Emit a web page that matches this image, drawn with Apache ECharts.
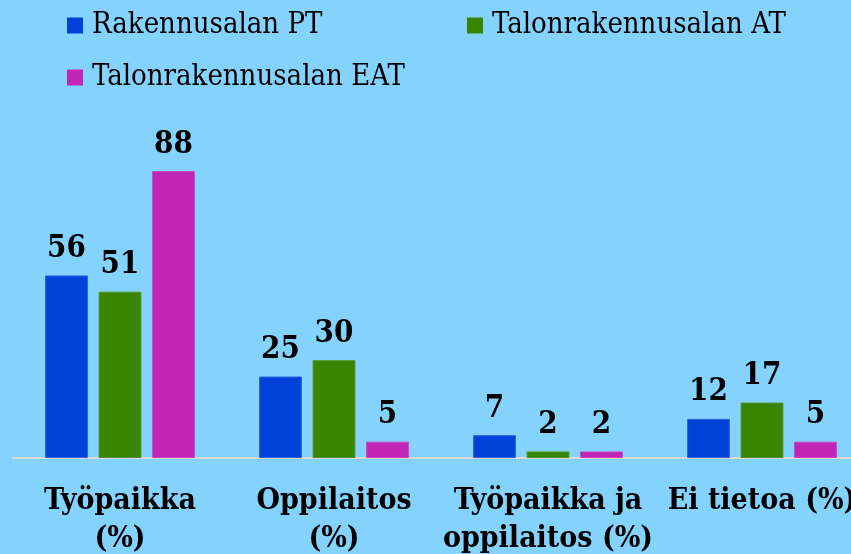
<!DOCTYPE html>
<html>
<head>
<meta charset="utf-8">
<script src="https://cdn.jsdelivr.net/npm/echarts@6/dist/echarts.min.js"></script>
<style>
  html, body { margin: 0; padding: 0; background: #84d3fe; }
  #chart { width: 851px; height: 554px; }
</style>
</head>
<body>
<div id="chart"></div>
<script>
// 数据
var categories = ['Työpaikka\n(%)', 'Oppilaitos\n(%)', 'Työpaikka ja\noppilaitos (%)', 'Ei tietoa (%)'];
var seriesNames = ['Rakennusalan PT', 'Talonrakennusalan AT', 'Talonrakennusalan EAT'];
var rakennusalanPT = [56, 25, 7, 12];
var talonrakennusalanAT = [51, 30, 2, 17];
var talonrakennusalanEAT = [88, 5, 2, 5];
var colors = ['#0042d8', '#3a8500', '#c025b5'];
var borderColors = ['#2a62e0', '#4f9420', '#cc45c2'];

(function() {
    var myChart = echarts.init(document.getElementById('chart'));
    var serif = '"DejaVu Serif Condensed", "DejaVu Serif", serif';

    // 图例, 每项单独定位
    function legendItem(i, left, top) {
        return {
            data: [seriesNames[i]],
            left: left,
            top: top,
            icon: 'rect',
            itemWidth: 16,
            itemHeight: 16,
            itemStyle: { borderWidth: 0 },
            textStyle: { fontFamily: serif, fontSize: 29, color: '#000', padding: [0, 0, 0, 4] }
        };
    }

    var labelStyle = {
        show: true,
        position: 'top',
        distance: 11,
        fontFamily: serif,
        fontWeight: 'bold',
        fontSize: 31,
        color: '#000'
    };

    function bar(i, data) {
        return {
            name: seriesNames[i],
            type: 'bar',
            data: data,
            barGap: '25%',
            barCategoryGap: '30%',
            itemStyle: { color: colors[i], borderColor: borderColors[i], borderWidth: 1 },
            label: labelStyle
        };
    }

    var option = {
        backgroundColor: '#84d3fe',
        animation: false,
        legend: [
            legendItem(0, 62, 6),
            legendItem(1, 462, 6),
            legendItem(2, 62, 58)
        ],
        grid: { left: 13, top: 132, width: 856, height: 326, outerBoundsMode: 'none', containLabel: false },
        xAxis: {
            type: 'category',
            data: categories,
            axisLine: { lineStyle: { color: '#d9d9d9', width: 2 } },
            axisTick: { show: false },
            axisLabel: {
                interval: 0,
                margin: 24,
                fontFamily: serif,
                fontWeight: 'bold',
                fontSize: 30,
                lineHeight: 38,
                color: '#000'
            }
        },
        yAxis: { type: 'value', min: 0, max: 100, show: false, splitLine: { show: false } },
        series: [
            bar(0, rakennusalanPT),
            bar(1, talonrakennusalanAT),
            bar(2, talonrakennusalanEAT)
        ]
    };

    myChart.setOption(option);
})();
</script>
</body>
</html>
